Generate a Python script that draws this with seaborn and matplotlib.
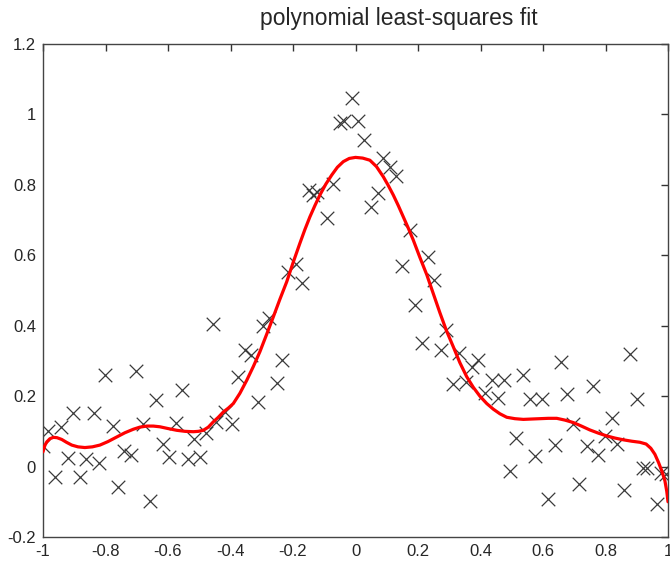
import matplotlib
matplotlib.use("Agg")
import matplotlib.pyplot as plt
import numpy as np
import pandas as pd
import seaborn as sns

# noisy samples
sample_x = [
    -1.000, -0.984, -0.963, -0.941, -0.921, -0.904, -0.881, -0.861, -0.838, -0.821,
    -0.803, -0.777, -0.761, -0.741, -0.718, -0.701, -0.679, -0.658, -0.639, -0.617,
    -0.596, -0.575, -0.556, -0.537, -0.516, -0.498, -0.478, -0.455, -0.446, -0.418,
    -0.395, -0.376, -0.353, -0.333, -0.313, -0.295, -0.276, -0.251, -0.235, -0.215,
    -0.190, -0.172, -0.148, -0.135, -0.122, -0.092, -0.071, -0.050, -0.036, -0.012,
    0.009, 0.027, 0.049, 0.073, 0.089, 0.111, 0.130, 0.148, 0.173, 0.190,
    0.212, 0.233, 0.250, 0.272, 0.291, 0.311, 0.330, 0.353, 0.374, 0.392,
    0.414, 0.436, 0.455, 0.475, 0.494, 0.514, 0.537, 0.557, 0.574, 0.596,
    0.615, 0.638, 0.658, 0.676, 0.697, 0.716, 0.740, 0.760, 0.777, 0.799,
    0.820, 0.837, 0.860, 0.878, 0.902, 0.919, 0.934, 0.964, 0.978, 0.995,
]
sample_y = [
    0.058, 0.101, -0.029, 0.112, 0.025, 0.151, -0.029, 0.021, 0.151, 0.009,
    0.259, 0.116, -0.058, 0.045, 0.032, 0.272, 0.120, -0.097, 0.189, 0.063,
    0.028, 0.124, 0.217, 0.021, 0.078, 0.028, 0.096, 0.404, 0.127, 0.156,
    0.120, 0.254, 0.331, 0.316, 0.183, 0.400, 0.423, 0.238, 0.303, 0.553,
    0.574, 0.522, 0.785, 0.772, 0.780, 0.705, 0.802, 0.977, 0.982, 1.046,
    0.982, 0.926, 0.738, 0.776, 0.875, 0.850, 0.825, 0.570, 0.671, 0.458,
    0.350, 0.594, 0.530, 0.332, 0.388, 0.235, 0.323, 0.241, 0.282, 0.303,
    0.210, 0.245, 0.196, 0.245, -0.012, 0.081, 0.259, 0.192, 0.029, 0.193,
    -0.091, 0.061, 0.296, 0.205, 0.122, -0.049, 0.058, 0.228, 0.032, 0.087,
    0.137, 0.064, -0.067, 0.320, 0.193, -0.005, -0.005, -0.107, -0.017, -0.022,
]

# fitted curve
fit_x = [
    -1.000, -0.994, -0.988, -0.978, -0.967, -0.955, -0.940, -0.925, -0.908, -0.888,
    -0.866, -0.842, -0.818, -0.792, -0.764, -0.738, -0.711, -0.690, -0.668, -0.647,
    -0.626, -0.600, -0.572, -0.545, -0.519, -0.503, -0.487, -0.471, -0.455, -0.439,
    -0.423, -0.407, -0.391, -0.370, -0.348, -0.327, -0.306, -0.285, -0.263, -0.242,
    -0.220, -0.199, -0.178, -0.162, -0.146, -0.130, -0.114, -0.095, -0.076, -0.058,
    -0.039, -0.020, 0.000, 0.023, 0.046, 0.067, 0.089, 0.105, 0.121, 0.137,
    0.153, 0.169, 0.185, 0.206, 0.228, 0.249, 0.270, 0.291, 0.313, 0.334,
    0.356, 0.377, 0.398, 0.420, 0.441, 0.462, 0.484, 0.510, 0.537, 0.563,
    0.590, 0.617, 0.644, 0.670, 0.697, 0.723, 0.750, 0.777, 0.804, 0.830,
    0.857, 0.884, 0.910, 0.930, 0.945, 0.958, 0.970, 0.980, 0.990, 0.996, 1.000,
]
fit_y = [
    0.042, 0.060, 0.070, 0.079, 0.083, 0.082, 0.077, 0.069, 0.061, 0.056,
    0.054, 0.056, 0.061, 0.071, 0.084, 0.096, 0.106, 0.112, 0.115, 0.115,
    0.113, 0.108, 0.103, 0.100, 0.099, 0.100, 0.103, 0.112, 0.127, 0.140,
    0.155, 0.166, 0.179, 0.208, 0.245, 0.284, 0.326, 0.374, 0.425, 0.475,
    0.525, 0.581, 0.634, 0.673, 0.709, 0.741, 0.771, 0.802, 0.828, 0.850,
    0.866, 0.875, 0.878, 0.876, 0.870, 0.852, 0.823, 0.798, 0.771, 0.741,
    0.709, 0.677, 0.643, 0.594, 0.545, 0.491, 0.437, 0.386, 0.340, 0.295,
    0.255, 0.225, 0.200, 0.179, 0.163, 0.150, 0.140, 0.136, 0.134, 0.135,
    0.136, 0.137, 0.137, 0.132, 0.125, 0.115, 0.104, 0.095, 0.087, 0.081,
    0.076, 0.072, 0.069, 0.064, 0.052, 0.035, 0.011, -0.012, -0.040, -0.070, -0.100,
]

x_ticks = [-1, -0.8, -0.6, -0.4, -0.2, 0, 0.2, 0.4, 0.6, 0.8, 1]
y_ticks = [-0.2, 0, 0.2, 0.4, 0.6, 0.8, 1, 1.2]

sns.set_style("white")
plt.rcParams["font.family"] = ["Liberation Sans", "DejaVu Sans"]

samples = pd.DataFrame({"x": sample_x, "y": sample_y})
fit = pd.DataFrame({"x": fit_x, "y": fit_y})

fig = plt.figure(figsize=(6.7, 5.63), dpi=100)
ax = fig.add_axes([43 / 670, 26 / 563, 625 / 670, 493 / 563])

sns.scatterplot(data=samples, x="x", y="y", marker="x", s=95, color="#3a3a3a",
                linewidth=0.9, ax=ax, zorder=2)
sns.lineplot(data=fit, x="x", y="y", sort=False, estimator=None, color="#ff0000",
             linewidth=2.3, ax=ax, zorder=3, solid_joinstyle="round")

ax.set_xlim(-1, 1)
ax.set_ylim(-0.2, 1.2)
ax.set_xticks(x_ticks, labels=[f"{v:g}" for v in x_ticks])
ax.set_yticks(y_ticks, labels=[f"{v:g}" for v in y_ticks])
ax.tick_params(direction="in", length=5, width=1, color="#333333",
               top=True, right=True, labelsize=12, pad=5)
ax.set_xlabel("")
ax.set_ylabel("")
for spine in ax.spines.values():
    spine.set_color("#444444")
    spine.set_linewidth(1.0)

fig.text(399 / 670, 1 - 19 / 563, "polynomial least-squares fit",
         ha="center", va="center", fontsize=16.5)

fig.savefig("out.png", dpi=100)
